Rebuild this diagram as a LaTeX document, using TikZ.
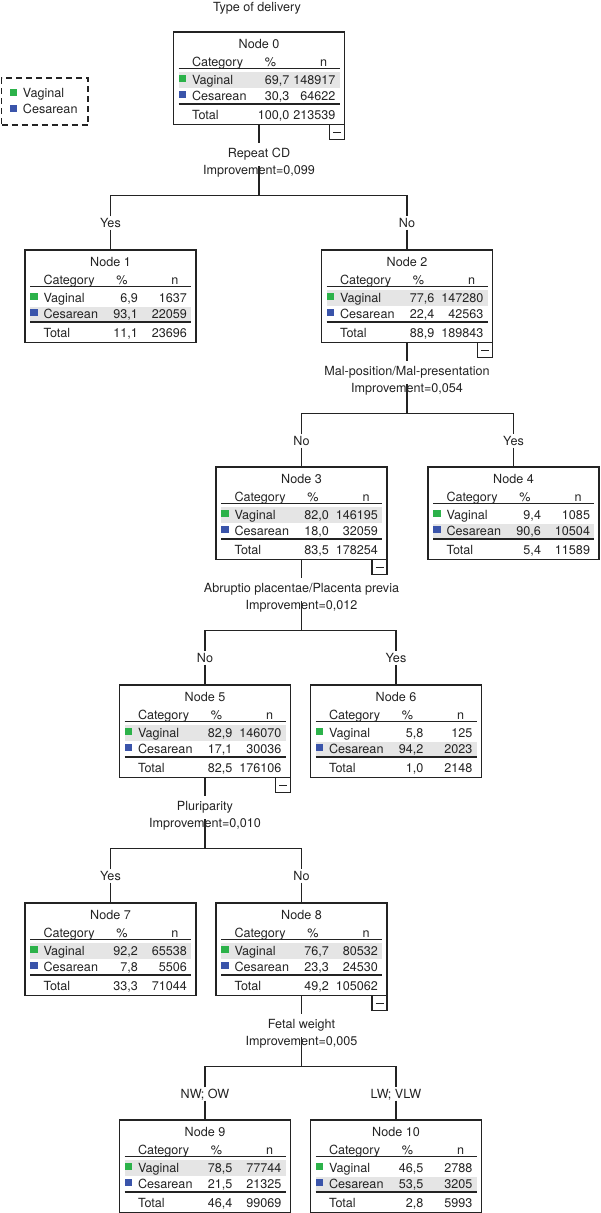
\documentclass[tikz,border=0pt]{standalone}
\usepackage{fontspec}
\setmainfont{TeX Gyre Heros}
\definecolor{gr}{RGB}{44,178,74}
\definecolor{bl}{RGB}{58,84,170}
\definecolor{sh}{RGB}{229,229,229}
\definecolor{ink}{RGB}{35,35,35}
\tikzset{
 every node/.style={font=\fontsize{12.6}{15}\selectfont, text=ink, inner sep=0pt, outer sep=0pt},
 cbox/.style={draw=ink, line width=1.2pt, minimum width=171pt, minimum height=92.5pt, anchor=north},
 rule/.style={draw=ink, line width=1.2pt},
 conn/.style={draw=ink, line width=1.2pt},
 minusbox/.style={draw=ink, line width=1.2pt, minimum width=15pt, minimum height=15pt, anchor=north east},
 elabel/.style={anchor=base, text height=9.1pt, text depth=0pt, inner ysep=2pt},
 slabel/.style={anchor=base, text height=9.1pt, text depth=0pt, inner ysep=5pt},
 legbox/.style={draw=ink, dash pattern=on 6pt off 4pt, line width=1.2pt, minimum width=86.5pt, minimum height=47pt, anchor=north west},
}
\def\pcx{113}
\newcommand{\ctbox}[5]{%
 \node[cbox] (#1) at (#2,-#3) {};
 \ifnum#5=1
   \fill[sh] ([shift={(5,-40)}]#1.north west) rectangle ([shift={(166,-56)}]#1.north west);
 \else
   \fill[sh] ([shift={(5,-56.5)}]#1.north west) rectangle ([shift={(166,-71)}]#1.north west);
 \fi
 \node[anchor=base] (#1t) at ([shift={(85.5,-16)}]#1.north west) {Node #4};
 \node[anchor=base west] (#1hc) at ([shift={(18.5,-34)}]#1.north west) {Category};
 \node[anchor=base] (#1hp) at ([shift={(97,-34)}]#1.north west) {\%};
 \node[anchor=base] (#1hn) at ([shift={(150,-34)}]#1.north west) {n};
 \draw[rule] ([shift={(5,-36.5)}]#1.north west) -- ([shift={(166,-36.5)}]#1.north west);
 \draw[rule] ([shift={(5,-72)}]#1.north west) -- ([shift={(166,-72)}]#1.north west);
 \fill[gr] ([shift={(5,-42.7)}]#1.north west) rectangle ([shift={(12.5,-50)}]#1.north west);
 \fill[bl] ([shift={(5,-59)}]#1.north west) rectangle ([shift={(12.5,-66.3)}]#1.north west);
 \node[anchor=base west] (#1vl) at ([shift={(18.5,-52.5)}]#1.north west) {Vaginal};
 \node[anchor=base west] (#1cl) at ([shift={(18.5,-68.5)}]#1.north west) {Cesarean};
 \node[anchor=base west] (#1tl) at ([shift={(18.5,-87.5)}]#1.north west) {Total};
}
\newcommand{\ctdata}[7]{%
 \node[anchor=base east] (#1vp) at ([shift={(\pcx,-52.5)}]#1.north west) {#2};
 \node[anchor=base east] (#1vn) at ([shift={(162,-52.5)}]#1.north west) {#3};
 \node[anchor=base east] (#1cp) at ([shift={(\pcx,-68.5)}]#1.north west) {#4};
 \node[anchor=base east] (#1cn) at ([shift={(162,-68.5)}]#1.north west) {#5};
 \node[anchor=base east] (#1tp) at ([shift={(\pcx,-87.5)}]#1.north west) {#6};
 \node[anchor=base east] (#1tn) at ([shift={(162,-87.5)}]#1.north west) {#7};
}
\newcommand{\ctminus}[1]{%
 \node[minusbox] (#1m) at (#1.south east) {};
 \draw[rule, line width=1pt] ([xshift=-4pt]#1m.center) -- ([xshift=4pt]#1m.center);
}
\newcommand{\ctsplit}[8]{%
 \path (#1.south) ++(0,-32.5) node[slabel] (#8a) {#2} ++(0,-17) node[slabel] (#8b) {#3};
 \coordinate (#8bar) at ([yshift=-71pt]#1.south);
 \draw[conn] (#1.south) -- (#8a.north);
 \draw[conn] ([yshift=8pt]#8b.base) -- (#8bar);
 \path (#4.north |- #8bar) ++(0,-32) node[elabel] (#8l) {#5};
 \path (#6.north |- #8bar) ++(0,-32) node[elabel] (#8r) {#7};
 \draw[conn] (#8l.north) -- (#8l.north |- #8bar) -- (#8r.north |- #8bar) -- (#8r.north);
 \draw[conn] (#8l.south) -- (#4.north);
 \draw[conn] (#8r.south) -- (#6.north);
}
\begin{document}
\begin{tikzpicture}[x=1pt,y=1pt]
\useasboundingbox (0,0) rectangle (600,-1213);
\node[anchor=base] (title) at (257,-11.3) {Type of delivery};
% legend
\node[legbox] (leg) at (1.5,-78) {};
\fill[gr] (10,-89.3) rectangle (17.3,-96.3);
\node[anchor=base west] (legv) at (23,-97.6) {Vaginal};
\fill[bl] (10,-105.3) rectangle (17.3,-112.3);
\node[anchor=base west] (legc) at (23,-113.4) {Cesarean};
% boxes
\def\pcx{116}
\ctbox{n0}{259}{32}{0}{1}
\ctdata{n0}{69,7}{148917}{30,3}{64622}{100,0}{213539}
\ctminus{n0}
\def\pcx{113}
\ctbox{n1}{110.5}{250}{1}{2}
\ctdata{n1}{6,9}{1637}{93,1}{22059}{11,1}{23696}
\ctbox{n2}{407}{250}{2}{1}
\ctdata{n2}{77,6}{147280}{22,4}{42563}{88,9}{189843}
\ctminus{n2}
\ctbox{n3}{301.5}{467}{3}{1}
\ctdata{n3}{82,0}{146195}{18,0}{32059}{83,5}{178254}
\ctminus{n3}
\ctbox{n4}{513.5}{467}{4}{2}
\ctdata{n4}{9,4}{1085}{90,6}{10504}{5,4}{11589}
\ctbox{n5}{205}{685}{5}{1}
\ctdata{n5}{82,9}{146070}{17,1}{30036}{82,5}{176106}
\ctminus{n5}
\ctbox{n6}{396}{685}{6}{2}
\ctdata{n6}{5,8}{125}{94,2}{2023}{1,0}{2148}
\ctbox{n7}{110.5}{903}{7}{1}
\ctdata{n7}{92,2}{65538}{7,8}{5506}{33,3}{71044}
\ctbox{n8}{301.5}{903}{8}{1}
\ctdata{n8}{76,7}{80532}{23,3}{24530}{49,2}{105062}
\ctminus{n8}
\ctbox{n9}{205}{1120}{9}{1}
\ctdata{n9}{78,5}{77744}{21,5}{21325}{46,4}{99069}
\ctbox{n10}{396}{1120}{10}{2}
\ctdata{n10}{46,5}{2788}{53,5}{3205}{2,8}{5993}
% splits
\ctsplit{n0}{Repeat CD}{Improvement=0,099}{n1}{Yes}{n2}{No}{sa}
\ctsplit{n2}{Mal-position/Mal-presentation}{Improvement=0,054}{n3}{No}{n4}{Yes}{sb}
\ctsplit{n3}{Abruptio placentae/Placenta previa}{Improvement=0,012}{n5}{No}{n6}{Yes}{sc}
\ctsplit{n5}{Pluriparity}{Improvement=0,010}{n7}{Yes}{n8}{No}{sd}
\ctsplit{n8}{Fetal weight}{Improvement=0,005}{n9}{NW; OW}{n10}{LW; VLW}{se}
\end{tikzpicture}
\end{document}
